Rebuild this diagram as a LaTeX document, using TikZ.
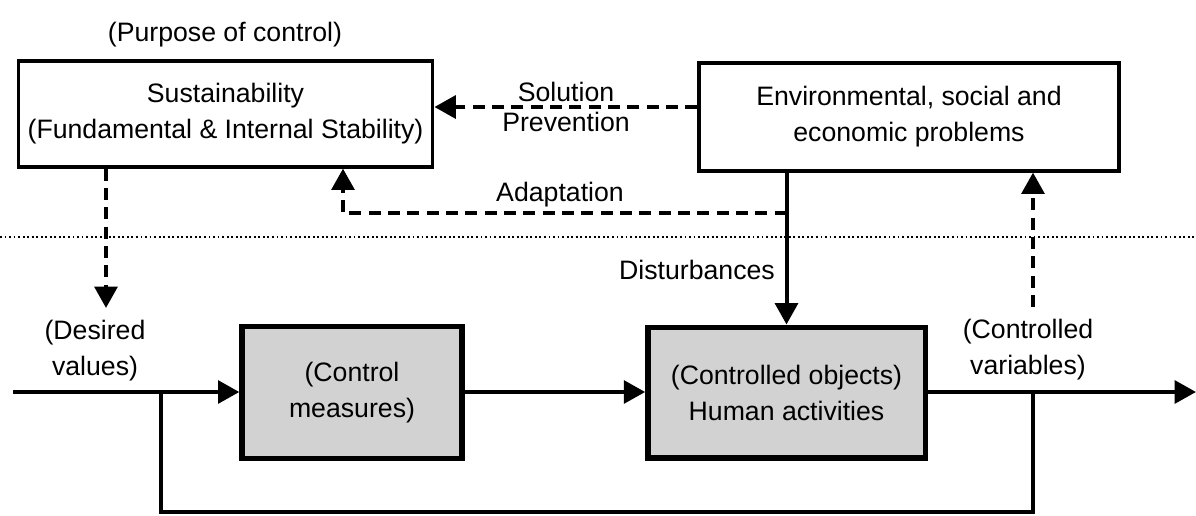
\documentclass[tikz,border=0pt]{standalone}
\usepackage{fontspec}
\setmainfont{Liberation Sans}
\usetikzlibrary{positioning,arrows.meta}

\begin{document}
\begin{tikzpicture}[
  x=0.75pt,y=-0.75pt,
  txt/.style={font=\fontsize{20}{27}\selectfont,align=center,inner sep=0pt},
  box/.style={txt,draw,line width=2.4pt},
  sbox/.style={txt,draw,line width=4pt,fill=gray!35},
  arr/.style={-{Triangle[length=16pt,width=17pt]},line width=3pt},
  darr/.style={arr,dash pattern=on 9pt off 5.5pt},
  line/.style={line width=3pt}
]
\useasboundingbox (0,0) rectangle (1196,515);
% upper level
\node[box,minimum width=311pt,minimum height=79.5pt] (sus) at (225.5,114) {Sustainability\\(Fundamental \& Internal Stability)};
\node[box,minimum width=315pt,minimum height=81pt] (env) at (909,117) {Environmental, social and\\economic problems};
\node[txt] (purp) at (225,35) {(Purpose of control)};
% control loop
\node[sbox,minimum width=165pt,minimum height=99pt] (ctl) at (352,392.5) {(Control\\measures)};
\node[sbox,minimum width=208pt,minimum height=98pt] (ctd) at (786.5,392.5) {(Controlled objects)\\Human activities};
\node[txt] (des) at (95,351) {(Desired\\values)};
\node[txt] (cvar) at (1028,350) {(Controlled\\variables)};
\node[txt] (dist) at (697,270) {Disturbances};
% helper points
\coordinate (solv) at (566,107);
\coordinate (adp) at (786.5,213);
\coordinate (adpx) at (343,213);
\coordinate (dtip) at (106,308);
\coordinate (in) at (13,392);
\coordinate (out) at (1196,392);
\coordinate (fbL) at (161,392);
\coordinate (fbR) at (1033,392);
\coordinate (cvtop) at (1033,307);
\coordinate (dl) at (0,237);
\coordinate (dr) at (1196,237);
\node[txt,above=4pt of solv] (sol) {Solution};
\node[txt,below=4pt of solv] (prev) {Prevention};
\node[txt] (adpt) at (560,195) {Adaptation};
% connectors
\draw[line width=1.4pt,dotted] (dl) -- (dr);
\draw[darr] (env.west |- solv) -- (sus.east |- solv);
\draw[darr] (adp) -- (adpx) -- (adpx |- sus.south);
\draw[arr] (env.south -| ctd.north) -- (ctd.north);
\draw[darr] (sus.south -| dtip) -- (dtip);
\draw[arr] (in) -- (ctl.west |- in);
\draw[arr] (ctl.east |- in) -- (ctd.west |- in);
\draw[arr] (ctd.east |- out) -- (out);
\draw[line] (fbR) -- ++(0,120) -| (fbL);
\draw[darr] (cvtop) -- (cvtop |- env.south);
\end{tikzpicture}
\end{document}
